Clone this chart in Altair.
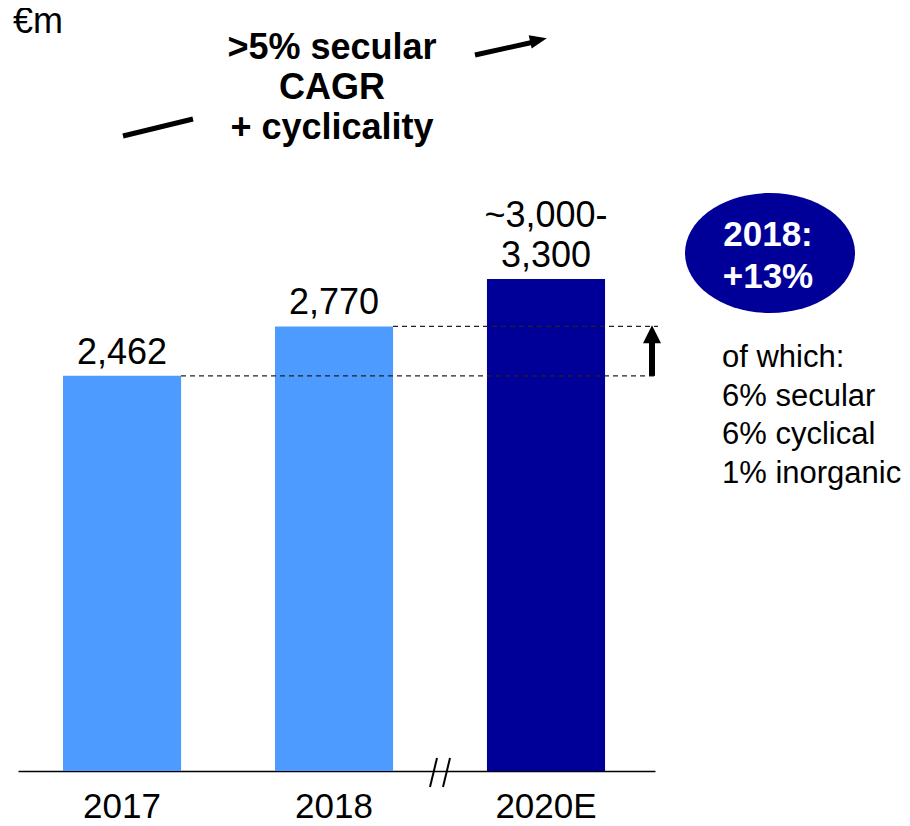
import altair as alt
import pandas as pd

# ---- data ----
years = ["2017", "2018", "2020E"]
values = [2462, 2770, 3065]          # 2020E bar height
labels_main = ["2,462", "2,770", "3,300"]
labels_upper = ["", "", "~3,000-"]
bar_colors = ["#4D9BFF", "#4D9BFF", "#000099"]

unit_text = "€m"
header_text = ">5% secular\nCAGR\n+ cyclicality"
bubble_text = "2018:\n+13%"
side_text = "of which:\n6% secular\n6% cyclical\n1% inorganic"

FONT = "Liberation Sans"

df = pd.DataFrame({"year": years, "value": values, "label": labels_main,
                   "label_up": labels_upper, "color": bar_colors})

W, H = 637, 763
YMAX = 4754

x_enc = alt.X("year:N", sort=years,
              scale=alt.Scale(paddingInner=0.443, paddingOuter=0.224, align=0.474),
              axis=alt.Axis(title=None, labelAngle=0, ticks=False, domainColor="black",
                            domainWidth=1.5, labelFont=FONT, labelFontSize=35,
                            labelColor="black", labelPadding=18, grid=False))
y_scale = alt.Scale(domain=[0, YMAX], nice=False, zero=True)
y_enc = alt.Y("value:Q", scale=y_scale, axis=None)

base = alt.Chart(df)

bars = base.mark_bar().encode(
    x=x_enc, y=y_enc, color=alt.Color("color:N", scale=None)
)

value_labels = base.mark_text(font=FONT, fontSize=36, baseline="alphabetic", dy=-12,
                              color="black").encode(
    x=alt.X("year:N", sort=years), y=alt.Y("value:Q", scale=y_scale), text="label:N"
)
value_labels_up = base.mark_text(font=FONT, fontSize=36, baseline="alphabetic", dy=-52,
                                 color="black").encode(
    x=alt.X("year:N", sort=years), y=alt.Y("value:Q", scale=y_scale), text="label_up:N"
)

dash1 = base.transform_filter(alt.datum.year == "2017").mark_rule(
    strokeDash=[5, 4], strokeWidth=1.3, color="#222").encode(
    x=alt.value(163), x2=alt.value(640), y=alt.Y("value:Q", scale=y_scale))
dash2 = base.transform_filter(alt.datum.year == "2018").mark_rule(
    strokeDash=[5, 4], strokeWidth=1.3, color="#222").encode(
    x=alt.value(375), x2=alt.value(640), y=alt.Y("value:Q", scale=y_scale))

one = pd.DataFrame({"a": [0]})

# vertical growth arrow between 2017 and 2018 levels
arrow_shaft = alt.Chart(one).mark_rule(strokeWidth=6, color="black").encode(
    x=alt.value(634), y=alt.Y(datum=values[0], scale=y_scale), y2=alt.Y2(datum=2680))
arrow_head = alt.Chart(one).mark_point(
    shape="M0,-1 L1,1 L-1,1 Z", filled=True, opacity=1, color="black").encode(
    x=alt.value(634), y=alt.Y(datum=2722, scale=y_scale), size=alt.value(324))

# axis break marks
slash1 = alt.Chart(one).mark_rule(strokeWidth=2, color="black").encode(
    x=alt.value(412), y=alt.value(779), x2=alt.value(419), y2=alt.value(750))
slash2 = alt.Chart(one).mark_rule(strokeWidth=2, color="black").encode(
    x=alt.value(425), y=alt.value(779), x2=alt.value(432), y2=alt.value(750))

unit = alt.Chart(one).mark_text(font=FONT, fontSize=36, align="left", baseline="middle",
                                color="black").encode(
    x=alt.value(-5), y=alt.value(14), text=alt.value(unit_text))

header = alt.Chart(one).mark_text(font=FONT, fontSize=36, fontWeight="bold", align="center",
                                  baseline="middle", lineBreak="\n", lineHeight=40,
                                  color="black").encode(
    x=alt.value(314), y=alt.value(40), text=alt.value(header_text))

short_line = alt.Chart(one).mark_rule(strokeWidth=5, color="black").encode(
    x=alt.value(105), y=alt.value(128), x2=alt.value(175), y2=alt.value(111))
up_shaft = alt.Chart(one).mark_rule(strokeWidth=5, color="black").encode(
    x=alt.value(457), y=alt.value(47), x2=alt.value(516), y2=alt.value(34))
up_head = alt.Chart(one).mark_point(shape="M-1,-0.8 L1,0 L-1,0.8 Z", filled=True, opacity=1,
                                    color="black", angle=347.5).encode(
    x=alt.value(520.5), y=alt.value(32), size=alt.value(289))

bubble = alt.Chart(one).mark_point(
    shape="M-1,0 A1,0.706,0,1,1,1,0 A1,0.706,0,1,1,-1,0 Z",
    filled=True, opacity=1, color="#000099").encode(
    x=alt.value(752), y=alt.value(245), size=alt.value(28900))
bubble_label = alt.Chart(one).mark_text(font=FONT, fontSize=35, fontWeight="bold",
                                        align="center", baseline="middle", lineBreak="\n",
                                        lineHeight=42, color="white").encode(
    x=alt.value(750), y=alt.value(227), text=alt.value(bubble_text))

side = alt.Chart(one).mark_text(font=FONT, fontSize=31, align="left", baseline="middle",
                                lineBreak="\n", lineHeight=38.5, color="black").encode(
    x=alt.value(704), y=alt.value(350), text=alt.value(side_text))

chart = alt.layer(
    bars, value_labels, value_labels_up, dash1, dash2, arrow_shaft, arrow_head, slash1, slash2,
    unit, header, short_line, up_shaft, up_head, bubble, bubble_label, side
).properties(
    width=W, height=H,
    background="white",
    autosize=alt.AutoSizeParams(type="none"),
    padding={"left": 10, "top": 0, "right": 247, "bottom": 47},
).configure_view(strokeWidth=0, stroke="transparent")

chart.save("out.html", embed_options={"renderer": "svg", "actions": False})
